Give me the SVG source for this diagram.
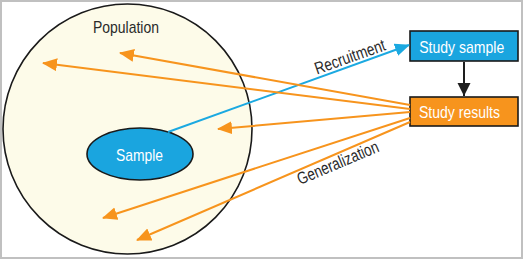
<svg xmlns="http://www.w3.org/2000/svg" width="523" height="259" viewBox="0 0 523 259">
<style>
.t{font-family:"Liberation Sans",Arial,sans-serif;font-size:17px;text-anchor:middle}
.w{fill:#ffffff}
.d{fill:#2a2a2a}
.or{stroke:#f7941d;stroke-width:2;fill:none;marker-end:url(#ao)}
</style>
<defs>
<marker id="ao" markerUnits="userSpaceOnUse" markerWidth="16" markerHeight="14" refX="14" refY="6.5" orient="auto"><path d="M0,0 L15,6.5 L0,13 z" fill="#f7941d"/></marker>
<marker id="ab" markerUnits="userSpaceOnUse" markerWidth="16" markerHeight="14" refX="14" refY="6.5" orient="auto"><path d="M0,0 L15,6.5 L0,13 z" fill="#1ba9e1"/></marker>
<marker id="ak" markerUnits="userSpaceOnUse" markerWidth="15" markerHeight="14" refX="13" refY="6.5" orient="auto"><path d="M0,0 L13,6.5 L0,13 z" fill="#1e1e1e"/></marker>
</defs>
<rect x="1" y="1" width="521" height="257" fill="#ffffff" stroke="#c0c0c0" stroke-width="2"/>
<g id="population">
<ellipse cx="127.5" cy="129" rx="124.5" ry="125" fill="#fdfbe9" stroke="#1a1a1a" stroke-width="1.6"/>
<text class="t d" x="126" y="32.5" font-size="15.5" textLength="66" lengthAdjust="spacingAndGlyphs">Population</text>
</g>
<g id="sample">
<ellipse cx="140" cy="154" rx="53" ry="26" fill="#1aa5df" stroke="#1a1a1a" stroke-width="1.6"/>
<text class="t w" x="139.5" y="160.5" textLength="47" lengthAdjust="spacingAndGlyphs">Sample</text>
</g>
<g id="study-sample">
<rect x="410" y="31" width="108" height="30" fill="#1aa5df" stroke="#1a1a1a" stroke-width="1.6"/>
<text class="t w" x="461.7" y="53" textLength="85" lengthAdjust="spacingAndGlyphs">Study sample</text>
</g>
<g id="study-results">
<rect x="410" y="97" width="108" height="29" fill="#f7941d" stroke="#1a1a1a" stroke-width="1.6"/>
<text class="t w" x="459.5" y="118" textLength="81" lengthAdjust="spacingAndGlyphs">Study results</text>
</g>
<g id="connectors">
<line x1="168" y1="132" x2="409" y2="45" stroke="#1ba9e1" stroke-width="2" marker-end="url(#ab)"/>
<line x1="464" y1="62" x2="464" y2="96" stroke="#1e1e1e" stroke-width="2" marker-end="url(#ak)"/>
<line class="or" x1="410" y1="105" x2="120" y2="53"/>
<line class="or" x1="410" y1="109" x2="43" y2="63"/>
<line class="or" x1="410" y1="112" x2="218" y2="129"/>
<line class="or" x1="410" y1="118" x2="103" y2="218"/>
<line class="or" x1="410" y1="122" x2="137" y2="240"/>
<text class="t d" transform="translate(350,57) rotate(-19.5)" y="5.5" font-size="16" textLength="74" lengthAdjust="spacingAndGlyphs">Recruitment</text>
<text class="t d" transform="translate(338,163) rotate(-23)" y="5.5" font-size="16" textLength="87" lengthAdjust="spacingAndGlyphs">Generalization</text>
</g>
</svg>
